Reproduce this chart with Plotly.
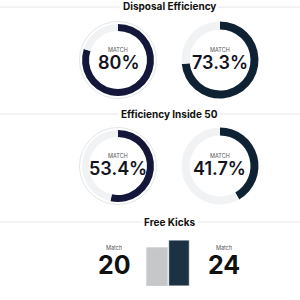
import plotly.graph_objects as go

# ---- data ----
section_titles = ["Disposal Efficiency", "Efficiency Inside 50", "Free Kicks"]
donut_values = [80.0, 73.3, 53.4, 41.7]
donut_labels = ["80%", "73.3%", "53.4%", "41.7%"]
donut_caption = "MATCH"
fk_categories = ["A", "B"]
fk_values = [20, 24]
fk_labels = ["20", "24"]
fk_caption = "Match"

W = H = 300
def px(x):
    return x / W
def py(y):
    return 1 - y / H

FONT = "Inter"
col_a = "#15173a"
col_b = "#0e2233"
track = "#f1f2f4"

fig = go.Figure()

centres = [(118, 60), (220, 60), (118, 166), (220, 166)]
bordered = [True, False, True, False]
colors = [col_a, col_b, col_a, col_b]

for i, v in enumerate(donut_values):
    cx, cy = centres[i]
    if bordered[i]:
        R0 = 38.5
        fig.add_trace(go.Pie(values=[1], labels=["bg%d" % i], hole=0,
                             marker=dict(colors=["#ffffff"], line=dict(color="#e4e5e8", width=1)),
                             domain=dict(x=[px(cx - R0), px(cx + R0)], y=[py(cy + R0), py(cy - R0)]),
                             textinfo="none", hoverinfo="skip", showlegend=False, sort=False))
        R = 36
        hole = 29 / 36
    else:
        R = 38.5
        hole = 30.5 / 38.5
    fig.add_trace(go.Pie(values=[v, 100 - v], labels=["match%d" % i, "rest%d" % i], hole=hole,
                         marker=dict(colors=[colors[i], track], line=dict(width=0)),
                         direction="clockwise", rotation=0, sort=False,
                         domain=dict(x=[px(cx - R), px(cx + R)], y=[py(cy + R), py(cy - R)]),
                         textinfo="none", hoverinfo="skip", showlegend=False))
    fig.add_annotation(x=px(cx), y=py(cy - 10), xref="paper", yref="paper",
                       xanchor="center", yanchor="middle", height=6,
                       text=donut_caption, showarrow=False,
                       font=dict(family=FONT, size=5.5, color="#555555"))
    fig.add_annotation(x=px(cx), y=py(cy + 2), xref="paper", yref="paper",
                       xanchor="center", yanchor="middle", height=14,
                       text=donut_labels[i], showarrow=False,
                       font=dict(family=FONT, size=18, color="#14141f", weight=600))

# bars
fig.add_trace(go.Bar(x=fk_categories, y=fk_values,
                     marker=dict(color=["#c5c7c8", "#1c3242"],
                                 line=dict(color=["#d5d6d7", "#e8ecef"], width=1)),
                     hoverinfo="skip", showlegend=False))
fig.update_layout(
    xaxis=dict(domain=[px(146), px(190)], visible=False, fixedrange=True),
    yaxis=dict(domain=[py(286), py(240)], range=[0, fk_values[1]], visible=False, fixedrange=True),
    bargap=0.06,
)

for xpos, lab in [(114, fk_labels[0]), (224, fk_labels[1])]:
    fig.add_annotation(x=px(xpos), y=py(248), xref="paper", yref="paper",
                       xanchor="center", yanchor="middle", height=6,
                       text=fk_caption, showarrow=False,
                       font=dict(family=FONT, size=5.5, color="#555555"))
    fig.add_annotation(x=px(xpos), y=py(264), xref="paper", yref="paper",
                       xanchor="center", yanchor="middle", height=19,
                       text=lab, showarrow=False,
                       font=dict(family=FONT, size=25, color="#111111", weight=700))

for t, ypx in zip(section_titles, [7, 114, 222]):
    fig.add_shape(type="line", xref="paper", yref="paper", x0=0, x1=1,
                  y0=py(ypx), y1=py(ypx), line=dict(color="#e6e6e6", width=1))
    fig.add_annotation(x=px(169), y=py(ypx), xref="paper", yref="paper",
                       xanchor="center", yanchor="middle",
                       text=t, showarrow=False,
                       bgcolor="#ffffff", borderpad=2,
                       font=dict(family=FONT, size=10, color="#111111", weight=700))

fig.update_layout(width=W, height=H, margin=dict(l=0, r=0, t=0, b=0),
                  paper_bgcolor="#ffffff", plot_bgcolor="#ffffff")
fig.write_html("out.html")
